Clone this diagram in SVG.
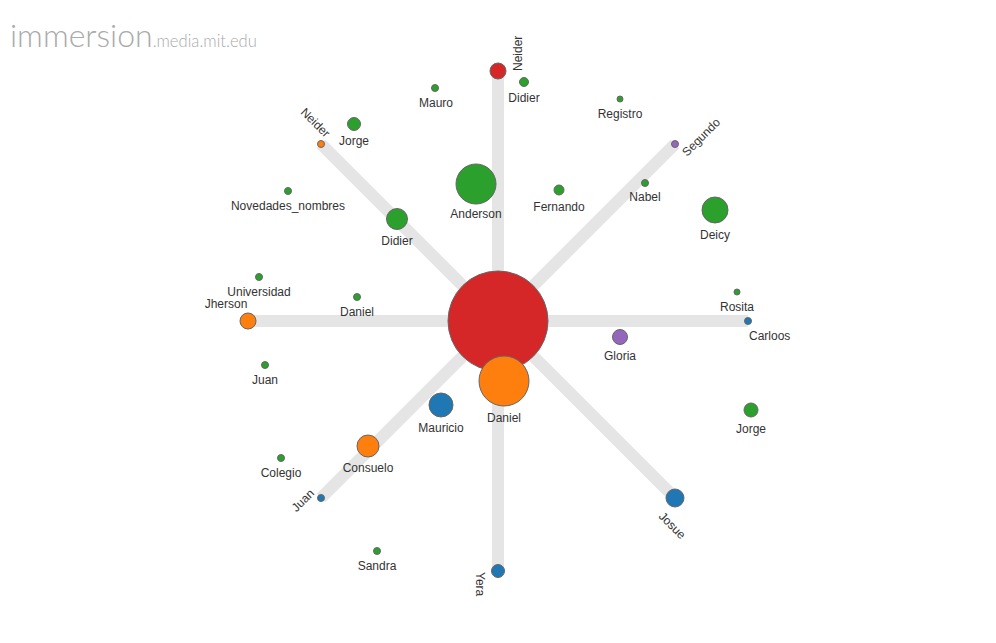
<svg xmlns="http://www.w3.org/2000/svg" width="996" height="643" viewBox="0 0 996 643">
<style>
.n{stroke:#666;stroke-width:1}
.r{fill:#d62728}.g{fill:#2ca02c}.o{fill:#ff7f0e}.b{fill:#1f77b4}.p{fill:#9467bd}
text.l{font-family:"Liberation Sans",Arial,sans-serif;font-size:12px;fill:#333;text-anchor:middle}
.sp line{stroke:#e5e5e5;stroke-width:12}
</style>
<rect width="996" height="643" fill="#fff"/>
<g id="title"><text x="10" y="47" font-family="Lato,'Open Sans',sans-serif" font-weight="300" fill="#aaa"><tspan font-size="32">immersion</tspan><tspan font-size="16.6">.media.mit.edu</tspan></text></g>
<g id="connectors" class="sp">
<line x1="498" y1="321" x2="498" y2="71"/>
<line x1="498" y1="321" x2="675" y2="144"/>
<line x1="498" y1="321" x2="748" y2="321"/>
<line x1="498" y1="321" x2="675" y2="498"/>
<line x1="498" y1="321" x2="498" y2="571"/>
<line x1="498" y1="321" x2="321" y2="498"/>
<line x1="498" y1="321" x2="248" y2="321"/>
<line x1="498" y1="321" x2="321" y2="144"/>
</g>
<g id="center"><circle class="n r" cx="498" cy="321" r="50"/></g>
<g id="neider-top"><circle class="n r" cx="498" cy="71" r="8"/><text class="l" transform="translate(522,71) rotate(-90)" style="text-anchor:start">Neider</text></g>
<g id="segundo"><circle class="n p" cx="675" cy="144" r="3.5"/><text class="l" transform="translate(687,157) rotate(-45)" style="text-anchor:start">Segundo</text></g>
<g id="carloos"><circle class="n b" cx="748" cy="321" r="3.5"/><text class="l" x="749" y="340" style="text-anchor:start">Carloos</text></g>
<g id="josue"><circle class="n b" cx="675" cy="498" r="9"/><text class="l" transform="translate(658,517) rotate(45)" style="text-anchor:start">Josue</text></g>
<g id="yera"><circle class="n b" cx="498" cy="571" r="6.5"/><text class="l" transform="translate(476,572) rotate(90)" style="text-anchor:start">Yera</text></g>
<g id="juan-spoke"><circle class="n b" cx="321" cy="498" r="3.5"/><text class="l" transform="translate(315,494) rotate(-45)" style="text-anchor:end">Juan</text></g>
<g id="jherson"><circle class="n o" cx="248" cy="321" r="8"/><text class="l" x="226" y="308">Jherson</text></g>
<g id="neider-left"><circle class="n o" cx="321" cy="144" r="3.5"/><text class="l" transform="translate(325,138) rotate(45)" style="text-anchor:end">Neider</text></g>
<g id="didier-spoke"><circle class="n g" cx="397" cy="219" r="10.5"/><text class="l" x="397" y="245">Didier</text></g>
<g id="consuelo"><circle class="n o" cx="368" cy="446" r="11"/><text class="l" x="368" y="472">Consuelo</text></g>
<g id="daniel-big"><circle class="n o" cx="504" cy="381" r="25"/><text class="l" x="504" y="422">Daniel</text></g>
<g id="didier"><circle class="n g" cx="524" cy="82" r="4.5"/><text class="l" x="524" y="102">Didier</text></g>
<g id="mauro"><circle class="n g" cx="435" cy="88" r="3.5"/><text class="l" x="436" y="107">Mauro</text></g>
<g id="jorge-top"><circle class="n g" cx="354" cy="124" r="6.5"/><text class="l" x="354" y="145">Jorge</text></g>
<g id="registro"><circle class="n g" cx="620" cy="99" r="3"/><text class="l" x="620" y="118">Registro</text></g>
<g id="anderson"><circle class="n g" cx="476" cy="184" r="20"/><text class="l" x="476" y="218">Anderson</text></g>
<g id="fernando"><circle class="n g" cx="559" cy="190" r="5"/><text class="l" x="559" y="211">Fernando</text></g>
<g id="nabel"><circle class="n g" cx="645" cy="183" r="3.5"/><text class="l" x="645" y="201">Nabel</text></g>
<g id="deicy"><circle class="n g" cx="715" cy="210" r="13"/><text class="l" x="715" y="239">Deicy</text></g>
<g id="novedades"><circle class="n g" cx="288" cy="191" r="3.5"/><text class="l" x="288" y="210">Novedades_nombres</text></g>
<g id="universidad"><circle class="n g" cx="259" cy="277" r="3.5"/><text class="l" x="259" y="296">Universidad</text></g>
<g id="daniel-small"><circle class="n g" cx="357" cy="297" r="3.5"/><text class="l" x="357" y="316">Daniel</text></g>
<g id="juan"><circle class="n g" cx="265" cy="365" r="3.5"/><text class="l" x="265" y="384">Juan</text></g>
<g id="rosita"><circle class="n g" cx="737" cy="292" r="3"/><text class="l" x="737" y="311">Rosita</text></g>
<g id="gloria"><circle class="n p" cx="620" cy="337" r="7.5"/><text class="l" x="620" y="360">Gloria</text></g>
<g id="jorge-right"><circle class="n g" cx="751" cy="410" r="7"/><text class="l" x="751" y="433">Jorge</text></g>
<g id="mauricio"><circle class="n b" cx="441" cy="405" r="12"/><text class="l" x="441" y="432">Mauricio</text></g>
<g id="colegio"><circle class="n g" cx="281" cy="458" r="3.5"/><text class="l" x="281" y="477">Colegio</text></g>
<g id="sandra"><circle class="n g" cx="377" cy="551" r="3.5"/><text class="l" x="377" y="570">Sandra</text></g>
</svg>
